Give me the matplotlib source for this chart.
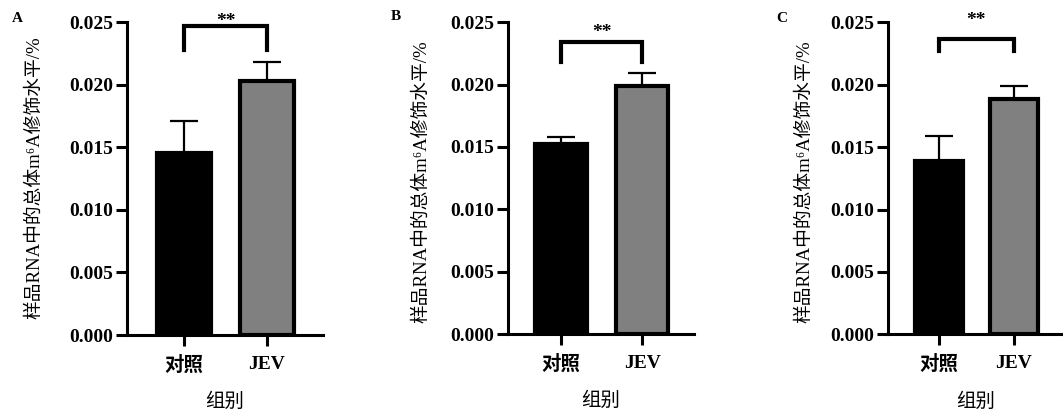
import matplotlib
matplotlib.use("Agg")
import matplotlib.pyplot as plt

# ---- data ----
categories = ["对照", "JEV"]
panel_letters = ["A", "B", "C"]
means_A = [0.01458, 0.02027]
errs_A = [0.00256, 0.00154]
means_B = [0.01521, 0.01989]
errs_B = [0.00062, 0.00107]
means_C = [0.01389, 0.01886]
errs_C = [0.00202, 0.00104]
bracket_A = [0.02275, 0.02469]
bracket_B = [0.02185, 0.02341]
bracket_C = [0.02270, 0.02366]
star_y = [0.02504, 0.02422, 0.02518]
sig_label = "**"
y_ticks = [0.000, 0.005, 0.010, 0.015, 0.020, 0.025]
y_label = "样品RNA中的总体m⁶A修饰水平/%"
x_label = "组别"

bar_colors = ["#000000", "#808080"]
FAM = ["Liberation Serif", "Noto Sans CJK SC"]
plt.rcParams["font.family"] = FAM

W, H = 1063, 415
fig = plt.figure(figsize=(W / 100, H / 100), dpi=100)


def px_axes(left, right, top, bottom):
    return fig.add_axes([left / W, (H - bottom) / H, (right - left) / W, (bottom - top) / H])


panels = [
    dict(rect=(127, 323, 22.3, 335), xlim=(-0.687, 1.675), width=0.66,
         means=means_A, errs=errs_A, br=bracket_A, ylab=(35, 178), letter=(17, 19)),
    dict(rect=(507.7, 694, 22.3, 334), xlim=(-0.658, 1.64), width=0.64,
         means=means_B, errs=errs_B, br=bracket_B, ylab=(422, 182), letter=(396, 17)),
    dict(rect=(888, 1063, 22.3, 334.3), xlim=(-0.685, 1.66), width=0.64,
         means=means_C, errs=errs_C, br=bracket_C, ylab=(805, 182), letter=(782, 18)),
]

for p, letter, sy in zip(panels, panel_letters, star_y):
    ax = px_axes(*p["rect"])
    x = list(range(len(categories)))
    ax.errorbar(x, p["means"], yerr=[[0, 0], p["errs"]], fmt="none",
                ecolor="black", elinewidth=1.6, capsize=10, capthick=1.6, zorder=1)
    ax.bar(x, p["means"], width=p["width"], color=bar_colors,
           edgecolor="black", linewidth=3.0, zorder=2)
    ax.set_xlim(*p["xlim"])
    ax.set_ylim(0, 0.025)
    ax.set_yticks(y_ticks)
    ax.set_yticklabels([f"{v:.3f}" for v in y_ticks])
    ax.set_xticks(x)
    ax.set_xticklabels(categories)
    for s in ["top", "right"]:
        ax.spines[s].set_visible(False)
    for s in ["left", "bottom"]:
        ax.spines[s].set_linewidth(2.2)
    ax.tick_params(axis="both", direction="out", length=8, width=2.2, pad=2,
                   labelsize=14)
    ax.tick_params(axis="x", pad=7)
    for lab in ax.get_yticklabels() + ax.get_xticklabels():
        lab.set_fontweight("bold")
        lab.set_family(FAM)
    ax.set_xlabel(x_label, fontsize=14, fontweight="normal", labelpad=13, family=FAM)
    # significance bracket
    lo, hi = p["br"]
    ax.plot([0, 0, 1, 1], [lo, hi, hi, lo], color="black", lw=3.0,
            solid_joinstyle="miter", clip_on=False, zorder=3)
    ax.text(0.5, sy, sig_label, ha="center", va="center", fontsize=14,
            fontweight="bold", clip_on=False)
    # y label
    fig.text(p["ylab"][0] / W, (H - p["ylab"][1]) / H, y_label, rotation=90,
             ha="center", va="center", fontsize=13.5, family=FAM)
    # panel letter
    fig.text(p["letter"][0] / W, (H - p["letter"][1]) / H, letter, ha="center",
             va="center", fontsize=11, fontweight="bold")

fig.savefig("out.png", dpi=100)
